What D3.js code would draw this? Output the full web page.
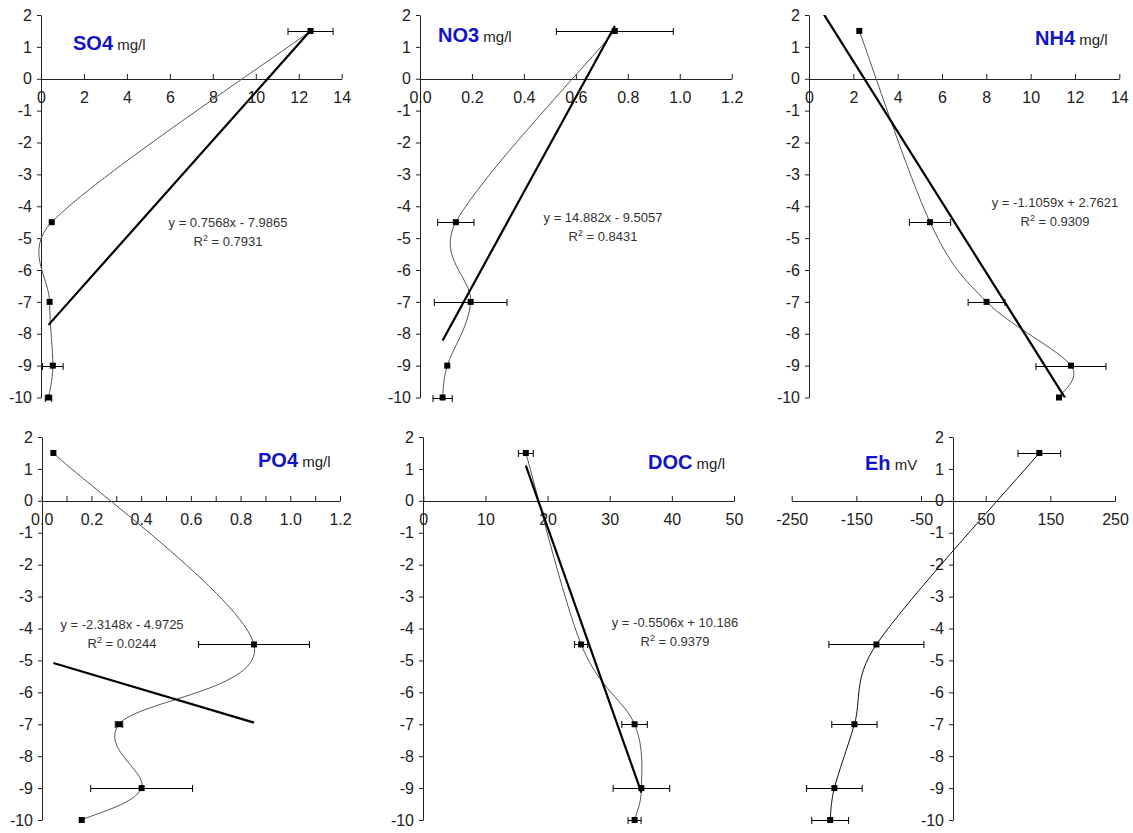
<!DOCTYPE html>
<html><head><meta charset="utf-8">
<script src="https://cdn.jsdelivr.net/npm/d3@7"></script>
<style>
body{margin:0;background:#fff}
svg{display:block}
text{font-family:Arial,"Liberation Sans",sans-serif}
</style>
</head><body>
<svg id="chart" width="1133" height="833"></svg>
<script>
// ---------------- DATA ----------------
const depths = [1.5, -4.5, -7, -9, -10];
const depthTicks = [2, 1, 0, -1, -2, -3, -4, -5, -6, -7, -8, -9, -10];

const so4Values = [12.55, 0.5, 0.4, 0.55, 0.35];
const so4Errors = [1.05, 0, 0, 0.48, 0.15];
const so4Ticks  = [0, 2, 4, 6, 8, 10, 12, 14];

const no3Values = [0.75, 0.138, 0.195, 0.105, 0.087];
const no3Errors = [0.225, 0.07, 0.14, 0, 0.037];
const no3Ticks  = [0, 0.2, 0.4, 0.6, 0.8, 1.0, 1.2];

const nh4Values = [2.27, 5.46, 8.01, 11.82, 11.28];
const nh4Errors = [0, 0.93, 0.83, 1.58, 0];
const nh4Ticks  = [0, 2, 4, 6, 8, 10, 12, 14];

const po4Values = [0.047, 0.854, 0.311, 0.402, 0.161];
const po4Errors = [0, 0.223, 0.015, 0.205, 0];
const po4Ticks  = [0, 0.2, 0.4, 0.6, 0.8, 1.0, 1.2];
const po4MinorTicks = [0.1, 0.3, 0.5, 0.7, 0.9, 1.1];

const docValues = [16.5, 25.4, 34.0, 35.1, 34.0];
const docErrors = [1.2, 1.05, 2.05, 4.55, 1.05];
const docTicks  = [0, 10, 20, 30, 40, 50];

const ehValues = [133, -119, -153, -184, -190.5];
const ehErrors = [33, 73.5, 35, 43, 28.5];
const ehTicks  = [-250, -150, -50, 50, 150, 250];

const panelNames  = ["SO4", "NO3", "NH4", "PO4", "DOC", "Eh"];
const panelUnits  = ["mg/l", "mg/l", "mg/l", "mg/l", "mg/l", "mV"];
const xDomains    = [[0, 14], [0, 1.2], [0, 14], [0, 1.2], [0, 50], [-250, 250]];
const trendSlopes     = [0.7568, 14.882, -1.1059, -2.3148, -0.5506, null];
const trendIntercepts = [-7.9865, -9.5057, 2.7621, -4.9725, 10.186, null];
const trendFrom = [0.35, 0.087, 0, 0.047, 16.5, null];
const trendTo   = [12.55, 0.75, 11.82, 0.854, 35.1, null];
const eqLabels  = ["y = 0.7568x - 7.9865", "y = 14.882x - 9.5057", "y = -1.1059x + 2.7621",
                   "y = -2.3148x - 4.9725", "y = -0.5506x + 10.186", null];
const r2Labels  = ["0.7931", "0.8431", "0.9309", "0.0244", "0.9379", null];

const seriesValues = [so4Values, no3Values, nh4Values, po4Values, docValues, ehValues];
const seriesErrors = [so4Errors, no3Errors, nh4Errors, po4Errors, docErrors, ehErrors];
const seriesTicks  = [so4Ticks, no3Ticks, nh4Ticks, po4Ticks, docTicks, ehTicks];
const seriesMinor  = [[], [], [], po4MinorTicks, [], []];
const tickDecimals = [0, 1, 0, 1, 0, 0];

// ---------------- LAYOUT ----------------
const layout = [
  {x0: 41,    x1: 341.7,  y0: 15,  y1: 397.5, tx: 73,   ty: 50,  ex: 228,  ey: 227},
  {x0: 420,   x1: 731.7,  y0: 15,  y1: 397.5, tx: 438,  ty: 42,  ex: 603,  ey: 222},
  {x0: 809,   x1: 1119.3, y0: 15,  y1: 397.5, tx: 1035, ty: 45,  ex: 1055, ey: 207},
  {x0: 41.7,  x1: 340,    y0: 437, y1: 820,   tx: 258,  ty: 467, ex: 122,  ey: 629},
  {x0: 423.3, x1: 734,    y0: 437, y1: 820,   tx: 648,  ty: 469, ex: 675,  ey: 627},
  {x0: 791.7, x1: 1115,   y0: 437, y1: 820,   tx: 865,  ty: 470, ex: 0,    ey: 0}
];

// Excel-like smoothed line (Bezier with 1/6 tension, capped per segment)
function ExcelSmooth(ctx){ this._ctx = ctx; }
ExcelSmooth.prototype = {
  areaStart(){}, areaEnd(){},
  lineStart(){ this._p = []; },
  point(x, y){ this._p.push([+x, +y]); },
  lineEnd(){
    const p = this._p, n = p.length, c = this._ctx;
    if (!n) return;
    c.moveTo(p[0][0], p[0][1]);
    const f0 = 1/6;
    const dist = (a, b) => Math.hypot(b[0]-a[0], b[1]-a[1]);
    for (let i = 0; i < n-1; i++){
      const P0 = p[i > 0 ? i-1 : i], P1 = p[i], P2 = p[i+1], P3 = p[i+2 < n ? i+2 : i+1];
      const d12 = dist(P1, P2), d02 = dist(P0, P2), d13 = dist(P1, P3);
      let f1 = f0, f2 = f0;
      if (d02 > 0 && d02/6 >= d12/2) f1 = d12/2/d02;
      if (d13 > 0 && d13/6 >= d12/2) f2 = d12/2/d13;
      c.bezierCurveTo(P1[0] + f1*(P2[0]-P0[0]), P1[1] + f1*(P2[1]-P0[1]),
                      P2[0] - f2*(P3[0]-P1[0]), P2[1] - f2*(P3[1]-P1[1]),
                      P2[0], P2[1]);
    }
  }
};
const excelSmooth = ctx => new ExcelSmooth(ctx);

const svg = d3.select("#chart");
const axisColor = "#222";

panelNames.forEach((name, k) => {
  const L = layout[k];
  const x = d3.scaleLinear().domain(xDomains[k]).range([L.x0, L.x1]);
  const y = d3.scaleLinear().domain([2, -10]).range([L.y0, L.y1]);
  const g = svg.append("g");

  const clipId = "clip" + k;
  svg.append("clipPath").attr("id", clipId).append("rect")
    .attr("x", L.x0 - 20).attr("y", L.y0).attr("width", L.x1 - L.x0 + 40).attr("height", L.y1 - L.y0);

  const fmt = d => tickDecimals[k] ? d.toFixed(tickDecimals[k]) : String(d);
  const y0px = Math.round(y(0)) + 0.5;
  const xAxisPos = Math.round(x(0)) + 0.5;

  // x axis (at depth 0), ticks upward, labels below
  const allTicks = seriesTicks[k].concat(seriesMinor[k]);
  const xAxis = d3.axisBottom(x).tickValues(allTicks)
    .tickFormat(d => seriesTicks[k].includes(d) ? fmt(d) : "")
    .tickSizeInner(-5).tickSizeOuter(0).tickPadding(13);
  const gx = g.append("g").attr("transform", `translate(0,${y0px - 0.5})`).call(xAxis);
  gx.selectAll("path.domain").attr("stroke", axisColor);
  gx.selectAll(".tick line").attr("stroke", axisColor);
  gx.selectAll("text").attr("font-size", 16).attr("fill", "#222")
    .attr("font-family", 'Arial,"Liberation Sans",sans-serif');

  // y axis (at x = 0)
  const yAxis = d3.axisLeft(y).tickValues(depthTicks).tickFormat(d => String(d))
    .tickSizeInner(4).tickSizeOuter(0).tickPadding(5);
  const gy = g.append("g").attr("transform", `translate(${xAxisPos - 0.5},0)`).call(yAxis);
  gy.selectAll("path.domain").attr("stroke", axisColor);
  gy.selectAll(".tick line").attr("stroke", axisColor);
  gy.selectAll("text").attr("font-size", 16).attr("fill", "#222")
    .attr("font-family", 'Arial,"Liberation Sans",sans-serif');

  const vals = seriesValues[k], errs = seriesErrors[k];
  const pts = vals.map((v, i) => ({v, d: depths[i], e: errs[i]}));

  // smoothed profile line
  const line = d3.line().x(p => x(p.v)).y(p => y(p.d)).curve(excelSmooth);
  g.append("path").datum(pts).attr("d", line)
    .attr("fill", "none").attr("stroke", k === 5 ? "#111" : "#555").attr("stroke-width", 1);

  // trend line
  if (trendSlopes[k] !== null){
    const tr = [trendFrom[k], trendTo[k]].map(v => ({v, d: trendSlopes[k]*v + trendIntercepts[k]}));
    g.append("path").datum(tr)
      .attr("d", d3.line().x(p => x(p.v)).y(p => y(p.d)))
      .attr("clip-path", `url(#${clipId})`)
      .attr("fill", "none").attr("stroke", "#000").attr("stroke-width", 2.2);
  }

  // error bars
  const eb = g.append("g").attr("stroke", "#000").attr("stroke-width", 1);
  pts.filter(p => p.e > 0).forEach(p => {
    const yy = Math.round(y(p.d)) + 0.5;
    const xa = x(p.v - p.e), xb = x(p.v + p.e);
    eb.append("line").attr("x1", xa).attr("x2", xb).attr("y1", yy).attr("y2", yy);
    [xa, xb].forEach(xx => eb.append("line").attr("x1", xx).attr("x2", xx).attr("y1", yy - 3.5).attr("y2", yy + 3.5));
  });

  // markers
  g.selectAll("rect.m").data(pts).join("rect").attr("class", "m")
    .attr("x", p => x(p.v) - 3).attr("y", p => y(p.d) - 3)
    .attr("width", 6).attr("height", 6).attr("fill", "#000");

  // title
  const t = g.append("text").attr("x", L.tx).attr("y", L.ty);
  t.append("tspan").text(name).attr("font-weight", "bold").attr("font-size", 20).attr("fill", "#1212c8");
  t.append("tspan").text(" " + panelUnits[k]).attr("font-size", 15).attr("fill", "#222");

  // equation
  if (eqLabels[k]){
    g.append("text").attr("x", L.ex).attr("y", L.ey).attr("text-anchor", "middle")
      .attr("font-size", 13).attr("fill", "#333").text(eqLabels[k]);
    const r = g.append("text").attr("x", L.ex).attr("y", L.ey + 19).attr("text-anchor", "middle")
      .attr("font-size", 13).attr("fill", "#333");
    r.append("tspan").text("R");
    r.append("tspan").text("2").attr("font-size", 9).attr("dy", -5);
    r.append("tspan").text(" = " + r2Labels[k]).attr("dy", 5);
  }
});
</script>
</body></html>
